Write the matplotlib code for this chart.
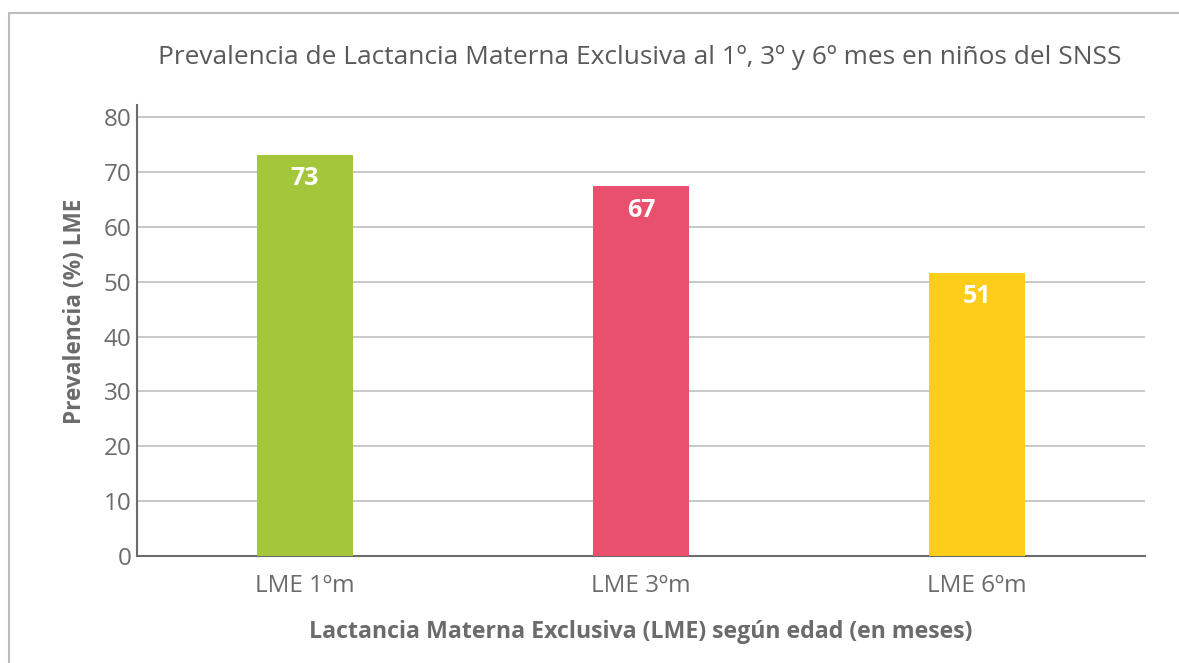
import matplotlib
matplotlib.use("Agg")
import matplotlib.pyplot as plt
from matplotlib.patches import Rectangle

categories = ["LME 1ºm", "LME 3ºm", "LME 6ºm"]
values = [73.1, 67.4, 51.6]
labels = ["73", "67", "51"]
colors = ["#A3C63B", "#E8506D", "#FECD1A"]
yticks = [0, 10, 20, 30, 40, 50, 60, 70, 80]

title = "Prevalencia de Lactancia Materna Exclusiva al 1º, 3º y 6º mes en niños del SNSS"
xlabel = "Lactancia Materna Exclusiva (LME) según edad (en meses)"
ylabel = "Prevalencia (%) LME"

plt.rcParams['font.family'] = ['Open Sans', 'DejaVu Sans']

W, H = 1179, 663
fig = plt.figure(figsize=(W / 100, H / 100), dpi=100)

# outer frame
fig.patches.append(Rectangle((9 / W, -0.1), 1.2, (H - 13) / H + 0.1, transform=fig.transFigure,
                             fill=False, edgecolor="#BDBDBD", linewidth=1.5))

ax = fig.add_axes([137 / W, (H - 556) / H, (1145 - 137) / W, (556 - 105) / H])
x = list(range(len(categories)))
ax.bar(x, values, width=0.286, color=colors, zorder=3)
for xi, v, lab in zip(x, values, labels):
    ax.text(xi, v - 2.1, lab, ha="center", va="top", color="white",
            fontsize=18, fontweight="bold", zorder=4)

ax.set_xlim(-0.5, 2.5)
ax.set_ylim(0, 82.2)
ax.set_yticks(yticks)
ax.set_xticks(x)
ax.set_xticklabels(categories)
ax.tick_params(axis="both", length=0, labelsize=17.5, labelcolor="#6B6B6B")
ax.tick_params(axis="x", pad=13)
ax.tick_params(axis="y", pad=4)
ax.grid(axis="y", color="#C4C4C4", linewidth=1.3, zorder=0)
for s in ["top", "right"]:
    ax.spines[s].set_visible(False)
for s in ["left", "bottom"]:
    ax.spines[s].set_color("#6B6B6B")
    ax.spines[s].set_linewidth(1.5)

ax.set_xlabel(xlabel, fontsize=16.7, fontweight="bold", color="#6B6B6B", labelpad=16)
ax.set_ylabel(ylabel, fontsize=16.3, fontweight="bold", color="#6B6B6B")
ax.yaxis.set_label_coords(-0.05, 0.543)

fig.text(640 / W, (H - 58) / H, title, ha="center", va="center", fontsize=18.9, color="#595959")

fig.savefig("out.png", dpi=100)
